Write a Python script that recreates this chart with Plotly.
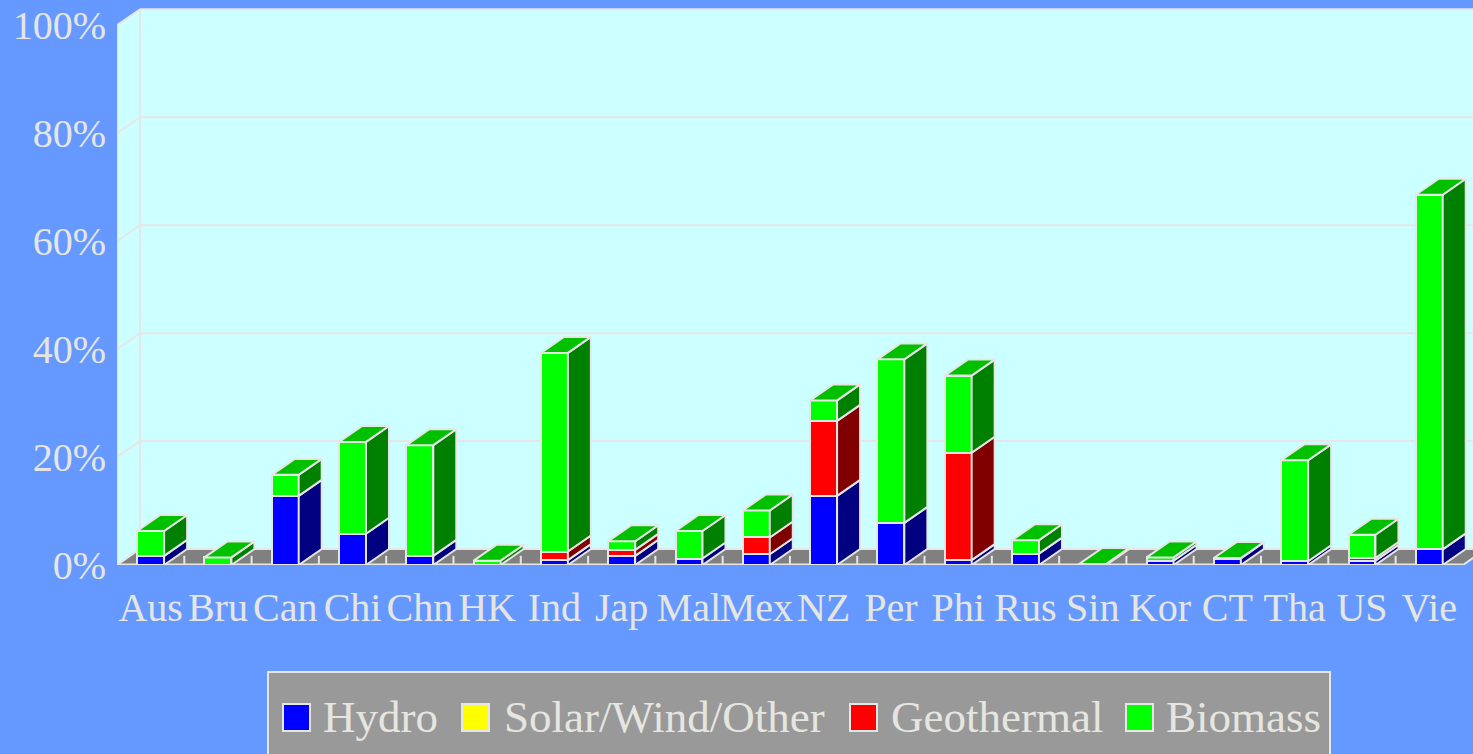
import plotly.graph_objects as go

# ---------------- data (percent of total) ----------------
categories = ["Aus", "Bru", "Can", "Chi", "Chn", "HK", "Ind", "Jap", "Mal", "Mex",
              "NZ", "Per", "Phi", "Rus", "Sin", "Kor", "CT", "Tha", "US", "Vie"]
hydro      = [1.7, 0.0, 12.8, 5.8, 1.7, 0.0, 0.9, 1.7, 1.2, 2.0,
              12.8, 7.8, 0.9, 2.1, 0.0, 0.8, 1.2, 0.7, 0.8, 2.9]
solar      = [0.0, 0.0, 0.0, 0.0, 0.0, 0.0, 0.0, 0.0, 0.0, 0.0,
              0.0, 0.0, 0.0, 0.0, 0.0, 0.0, 0.0, 0.0, 0.0, 0.0]
geothermal = [0.0, 0.0, 0.0, 0.0, 0.0, 0.0, 1.6, 1.1, 0.0, 3.1,
              13.9, 0.0, 19.9, 0.0, 0.0, 0.0, 0.0, 0.0, 0.5, 0.0]
biomass    = [4.6, 1.4, 3.9, 17.0, 20.5, 0.8, 36.8, 1.6, 5.1, 5.0,
              3.8, 30.3, 14.3, 2.5, 0.2, 0.6, 0.1, 18.7, 4.3, 65.7]
series_names = ["Hydro", "Solar/Wind/Other", "Geothermal", "Biomass"]
y_ticks = [0, 20, 40, 60, 80, 100]
y_ticktext = ["0%", "20%", "40%", "60%", "80%", "100%"]

# ---------------- style ----------------
front_colors = ["#0000FF", "#FFFF00", "#FF0000", "#00FF00"]
side_colors  = ["#000080", "#808000", "#800000", "#008000"]
top_colors   = ["#0000C0", "#C0C000", "#C00000", "#00C000"]
EDGE = "#E6E6E6"
TXT = "#E6E6E0"
BG = "#6699FF"
WALL = "#CCFFFF"
FLOOR = "#808080"
FONT = "Liberation Serif"

W, H = 1473, 754
ML, MR, MT, MB = 117, 0, 8, 189
XR = [-0.5, 19.65]
YR = [0, 103.2]
BW = 0.4      # bar width (category units)
DX = 0.342    # depth offset x (category units)
DY = 2.96     # depth offset y (percent units)

series = [hydro, solar, geothermal, biomass]
n = len(categories)
xs = list(range(n))

fig = go.Figure()

# front faces: stacked bars
for s, vals in enumerate(series):
    fig.add_trace(go.Bar(
        x=xs, y=[v if v > 0 else None for v in vals], width=BW,
        name=series_names[s],
        marker=dict(color=front_colors[s], line=dict(color=EDGE, width=2)),
        showlegend=False, hoverinfo="skip"))

# side and top faces
base = [0.0] * n
side_paths = [([], []) for _ in series]
top_paths = [([], []) for _ in series]
top_series = [None] * n
for s, vals in enumerate(series):
    px, py = side_paths[s]
    for i in range(n):
        v = vals[i]
        if v > 0:
            b = base[i]
            t = b + v
            xr = i + BW / 2
            px += [xr, xr + DX, xr + DX, xr, xr, None]
            py += [b, b + DY, t + DY, t, b, None]
            base[i] = t
            top_series[i] = s
for i in range(n):
    s = top_series[i]
    if s is None:
        continue
    t = base[i]
    xl, xr = i - BW / 2, i + BW / 2
    tx, ty = top_paths[s]
    tx += [xl, xl + DX, xr + DX, xr, xl, None]
    ty += [t, t + DY, t + DY, t, t, None]

for s in range(len(series)):
    px, py = side_paths[s]
    if px:
        fig.add_trace(go.Scatter(x=px, y=py, mode="lines", fill="toself",
                                 fillcolor=side_colors[s],
                                 line=dict(color=EDGE, width=2),
                                 showlegend=False, hoverinfo="skip"))
    tx, ty = top_paths[s]
    if tx:
        fig.add_trace(go.Scatter(x=tx, y=ty, mode="lines", fill="toself",
                                 fillcolor=top_colors[s],
                                 line=dict(color=EDGE, width=2),
                                 showlegend=False, hoverinfo="skip"))

# ---------------- 3D frame (walls, floor, grid) ----------------
x0f, x1f = -0.5, n - 0.5
shapes = []
def poly(pts, fill, lw=0, lc=EDGE):
    d = "M " + " L ".join(f"{x},{y}" for x, y in pts) + " Z"
    return dict(type="path", path=d, xref="x", yref="y", layer="below",
                fillcolor=fill, line=dict(width=lw, color=lc))
def seg(xa, ya, xb, yb, lw=2):
    return dict(type="line", x0=xa, y0=ya, x1=xb, y1=yb, xref="x", yref="y",
                layer="below", line=dict(color=EDGE, width=lw))

shapes.append(poly([(x0f + DX, DY), (x1f + DX, DY), (x1f + DX, 100 + DY), (x0f + DX, 100 + DY)], WALL))
shapes.append(poly([(x0f, 0), (x0f + DX, DY), (x0f + DX, 100 + DY), (x0f, 100)], WALL))
shapes.append(poly([(x0f, 0), (x1f, 0), (x1f + DX, DY), (x0f + DX, DY)], FLOOR))
for v in y_ticks:
    shapes.append(seg(x0f + DX, v + DY, x1f + DX, v + DY))
    shapes.append(seg(x0f, v, x0f + DX, v + DY))
shapes.append(seg(x0f, 0, x0f, 100, 3))
shapes.append(seg(x0f + DX, DY, x0f + DX, 100 + DY))
shapes.append(seg(x0f, 0, x1f, 0, 3))
shapes.append(seg(x1f, 0, x1f + DX, DY))
for k in range(n - 1):
    shapes.append(seg(k + 0.5, 0, k + 0.5, 1.7))

# ---------------- manual legend ----------------
PW = W - ML - MR
PH = H - MT - MB
def pxx(x):
    return (x - ML) / PW
def pxy(y):
    return (H - MB - y) / PH

shapes.append(dict(type="rect", xref="paper", yref="paper",
                   x0=pxx(268), x1=pxx(1330), y0=pxy(672), y1=pxy(770),
                   fillcolor="#999999", line=dict(color=EDGE, width=2), layer="above"))
sq_x = [283, 462, 850, 1126]
tx_x = [321, 502, 889, 1164]
annotations = []
for s in range(len(series)):
    shapes.append(dict(type="rect", xref="paper", yref="paper",
                       x0=pxx(sq_x[s]), x1=pxx(sq_x[s] + 27),
                       y0=pxy(704), y1=pxy(731),
                       fillcolor=front_colors[s], line=dict(color=EDGE, width=2),
                       layer="above"))
    annotations.append(dict(xref="paper", yref="paper", x=pxx(tx_x[s]), y=pxy(717),
                            xanchor="left", yanchor="middle", showarrow=False,
                            text=series_names[s],
                            font=dict(family=FONT, size=45, color=TXT)))

fig.update_layout(
    width=W, height=H, barmode="stack", bargap=0,
    paper_bgcolor=BG, plot_bgcolor=BG,
    margin=dict(l=ML, r=MR, t=MT, b=MB, pad=0),
    showlegend=False,
    shapes=shapes, annotations=annotations,
    xaxis=dict(range=XR, tickvals=xs, ticktext=categories, tickangle=0,
               showgrid=False, zeroline=False, showline=False,
               ticks="outside", ticklen=7, tickcolor="rgba(0,0,0,0)",
               tickfont=dict(family=FONT, size=40, color=TXT), fixedrange=True),
    yaxis=dict(range=YR, tickvals=y_ticks, ticktext=y_ticktext,
               showgrid=False, zeroline=False, showline=False,
               ticks="outside", ticklen=2, tickcolor="rgba(0,0,0,0)",
               tickfont=dict(family=FONT, size=40, color=TXT), fixedrange=True),
)

fig.write_html("out.html",
               config={"displayModeBar": False},
               post_script="document.body.style.margin='0';"
                           "document.body.style.background='" + BG + "';")
